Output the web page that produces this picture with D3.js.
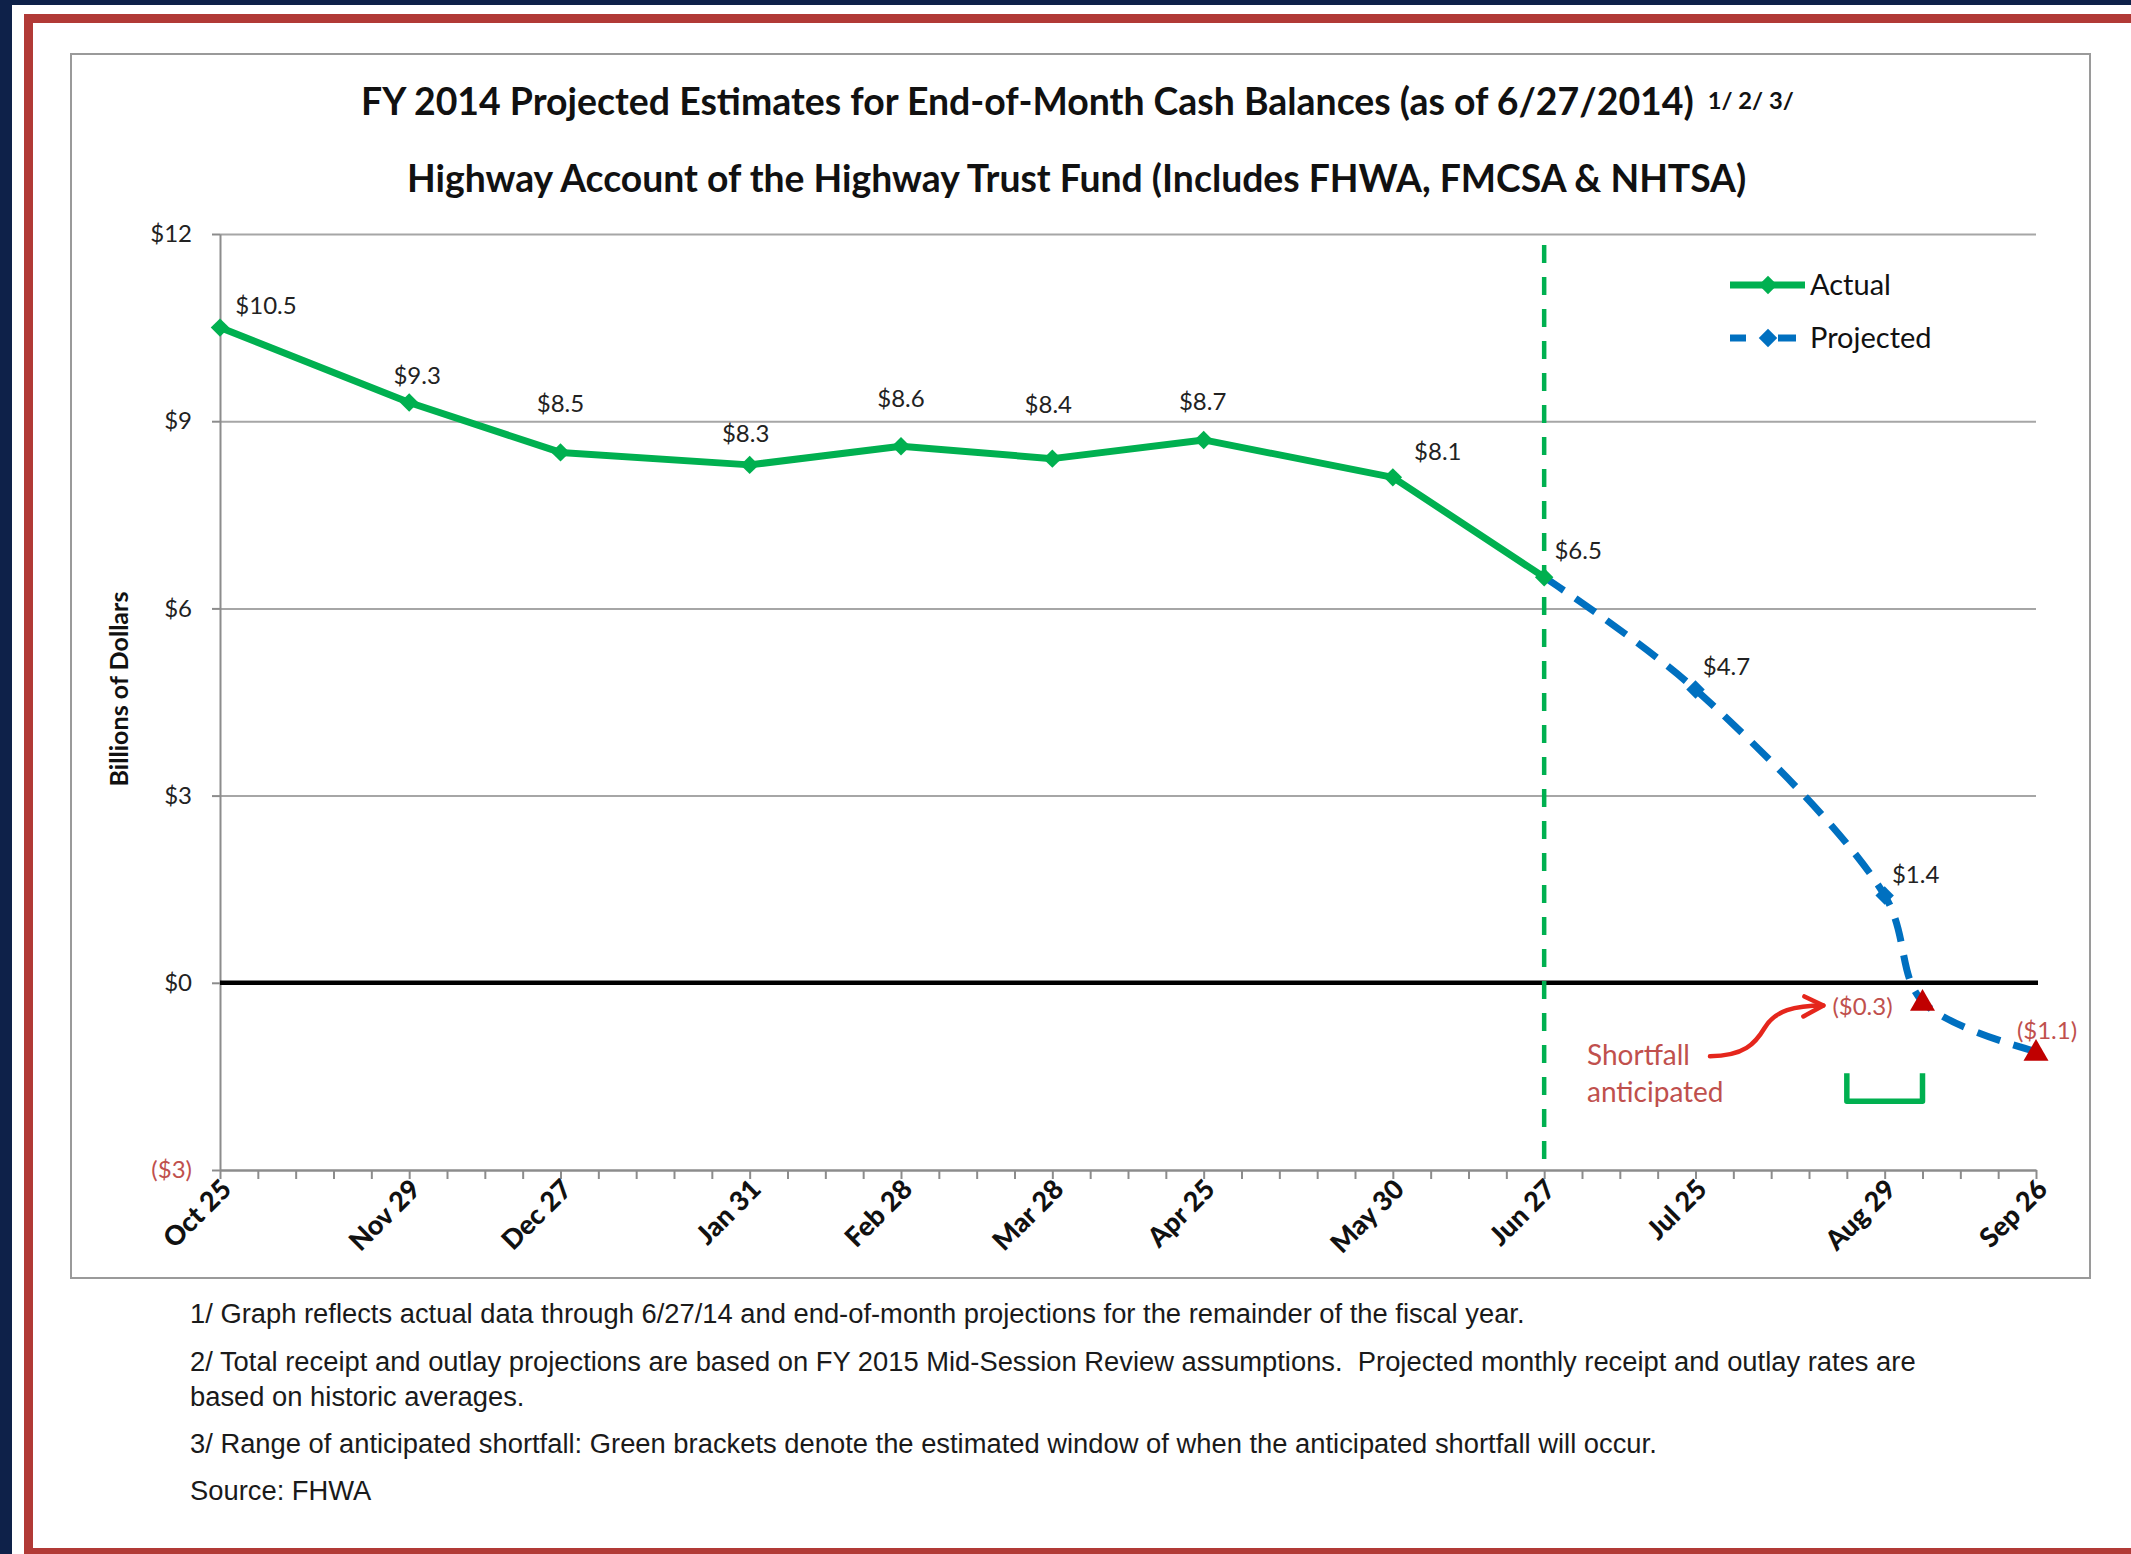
<!DOCTYPE html>
<html><head><meta charset="utf-8">
<script src="https://cdn.jsdelivr.net/npm/d3@7"></script>
<style>
html,body{margin:0;padding:0;background:#0e2149;}
svg{display:block;}
text{font-family:Lato,"Open Sans",sans-serif;}
</style></head><body>
<svg id="chart" width="2131" height="1554"></svg>
<script>
// ---------------- DATA ----------------
const actualDates  = ['2013-10-25','2013-11-29','2013-12-27','2014-01-31','2014-02-28','2014-03-28','2014-04-25','2014-05-30','2014-06-27'];
const actualValues = [10.5, 9.3, 8.5, 8.3, 8.6, 8.4, 8.7, 8.1, 6.5];
const actualLabels = ['$10.5','$9.3','$8.5','$8.3','$8.6','$8.4','$8.7','$8.1','$6.5'];

const projectedDates  = ['2014-06-27','2014-07-25','2014-08-29','2014-09-05','2014-09-26'];
const projectedValues = [6.5, 4.7, 1.4, -0.3, -1.1];
const projectedLabels = ['', '$4.7', '$1.4', '', ''];
const projectedMarker = [false, true, true, false, false];

const shortfallDates  = ['2014-09-05','2014-09-26'];
const shortfallValues = [-0.3, -1.1];
const shortfallLabels = ['($0.3)','($1.1)'];

const bracketDates  = ['2014-08-22','2014-09-05'];
const bracketValues = [-1.45, -1.9];

const cutoffDate = '2014-06-27';
const noteDate = '2014-07-04';
const noteValue = -1.32;
const noteLines = ['Shortfall','anticipated'];

const xStart = '2013-10-25', xEnd = '2014-09-26';
const xTickDates  = ['2013-10-25','2013-11-29','2013-12-27','2014-01-31','2014-02-28','2014-03-28','2014-04-25','2014-05-30','2014-06-27','2014-07-25','2014-08-29','2014-09-26'];
const xTickLabels = ['Oct 25','Nov 29','Dec 27','Jan 31','Feb 28','Mar 28','Apr 25','May 30','Jun 27','Jul 25','Aug 29','Sep 26'];
const yTickValues = [-3, 0, 3, 6, 9, 12];
const yTickLabels = ['($3)','$0','$3','$6','$9','$12'];

const title1 = 'FY 2014 Projected Estimates for End-of-Month Cash Balances (as of 6/27/2014)';
const titleNotes = '1/ 2/ 3/';
const title2 = 'Highway Account of the Highway Trust Fund (Includes FHWA, FMCSA & NHTSA)';
const yAxisTitle = 'Billions of Dollars';
const seriesNames = ['Actual','Projected'];
const footnotes = [
  '1/ Graph reflects actual data through 6/27/14 and end-of-month projections for the remainder of the fiscal year.',
  '2/ Total receipt and outlay projections are based on FY 2015 Mid-Session Review assumptions.  Projected monthly receipt and outlay rates are',
  'based on historic averages.',
  '3/ Range of anticipated shortfall: Green brackets denote the estimated window of when the anticipated shortfall will occur.',
  'Source: FHWA'
];

// ---------------- STYLE ----------------
const GREEN = '#00b050', BLUE = '#0070c0', DARKRED = '#c00000', MUTEDRED = '#c0504d', ARROWRED = '#e5261c';
const GRID = '#a6a6a6';
const parse = d3.utcParse('%Y-%m-%d');

const svg = d3.select('#chart');
const W = 2131, H = 1554;

// page frame
svg.append('rect').attr('width', W).attr('height', H).attr('fill', '#0e2149');
svg.append('rect').attr('x', 12).attr('y', 5).attr('width', W - 12).attr('height', H - 5).attr('fill', '#fff');
const RED = '#b13a36';
svg.append('rect').attr('x', 24).attr('y', 14).attr('width', W - 24).attr('height', 9).attr('fill', RED);
svg.append('rect').attr('x', 24).attr('y', 14).attr('width', 9).attr('height', H - 14).attr('fill', RED);
svg.append('rect').attr('x', 24).attr('y', 1548).attr('width', W - 24).attr('height', 6).attr('fill', RED);
// chart box
svg.append('rect').attr('x', 71).attr('y', 54).attr('width', 2019).attr('height', 1224)
  .attr('fill', '#fff').attr('stroke', '#9a9a9a').attr('stroke-width', 2);

// scales
const x = d3.scaleUtc().domain([parse(xStart), parse(xEnd)]).range([220, 2036]);
const y = d3.scaleLinear().domain([-3, 12]).range([1170, 234]);

// gridlines
const grid = svg.append('g').attr('transform', `translate(${x.range()[0]},0)`)
  .call(d3.axisLeft(y).tickValues(yTickValues.filter(v => v > 0)).tickSize(-(x.range()[1] - x.range()[0])).tickFormat(''));
grid.select('.domain').remove();
grid.selectAll('line').attr('stroke', GRID).attr('stroke-width', 2);

// y axis
const yAx = svg.append('g').attr('transform', `translate(${x.range()[0]},0)`)
  .call(d3.axisLeft(y).tickValues(yTickValues).tickSize(8).tickSizeOuter(0).tickPadding(20)
    .tickFormat((d, i) => yTickLabels[i]));
yAx.select('.domain').attr('stroke', '#8c8c8c').attr('stroke-width', 2);
yAx.selectAll('line').attr('stroke', '#8c8c8c').attr('stroke-width', 2);
yAx.selectAll('text').attr('font-family', 'Lato').attr('font-size', 24)
  .attr('fill', (d, i) => d < 0 ? MUTEDRED : '#222');

// x axis (weekly ticks)
const weekly = d3.utcFriday.range(parse(xStart), d3.utcDay.offset(parse(xEnd), 1));
const xAx = svg.append('g').attr('transform', `translate(0,${y(-3)})`)
  .call(d3.axisBottom(x).tickValues(weekly).tickSize(9).tickSizeOuter(0).tickFormat(''));
xAx.select('.domain').attr('stroke', '#8c8c8c').attr('stroke-width', 2.5);
xAx.selectAll('line').attr('stroke', '#8c8c8c').attr('stroke-width', 2);

// x labels
svg.append('g').selectAll('text').data(xTickDates).join('text')
  .attr('transform', d => `translate(${x(parse(d)) + 13},${y(-3) + 21}) rotate(-45)`)
  .attr('text-anchor', 'end').attr('font-weight', 900).attr('font-size', 27).attr('fill', '#111')
  .text((d, i) => xTickLabels[i]);

// zero line
svg.append('line').attr('x1', x.range()[0]).attr('x2', x.range()[1] + 2)
  .attr('y1', y(0)).attr('y2', y(0)).attr('stroke', '#000').attr('stroke-width', 4.5);

// cutoff dashed vertical line
svg.append('line').attr('x1', x(parse(cutoffDate))).attr('x2', x(parse(cutoffDate)))
  .attr('y1', y(12) + 11).attr('y2', y(-3)).attr('stroke', GREEN).attr('stroke-width', 4.5)
  .attr('stroke-dasharray', '18,14');

// y axis title
const yt = svg.append('text').attr('transform', `translate(128,689) rotate(-90)`)
  .attr('text-anchor', 'middle').attr('font-weight', 700).attr('font-size', 22).attr('fill', '#111')
  .text(yAxisTitle);
yt.attr('font-size', 22 * 195 / yt.node().getComputedTextLength());

// series data
const actual = actualDates.map((d, i) => ({ date: parse(d), v: actualValues[i], label: actualLabels[i] }));
const projected = projectedDates.map((d, i) => ({ date: parse(d), v: projectedValues[i], label: projectedLabels[i], m: projectedMarker[i] }));

// projected line (smoothed, dashed)
svg.append('path').datum(projected)
  .attr('d', d3.line().x(d => x(d.date)).y(d => y(d.v)).curve(d3.curveCatmullRom.alpha(0.5)))
  .attr('fill', 'none').attr('stroke', BLUE).attr('stroke-width', 7).attr('stroke-dasharray', '24,14');

// actual line
svg.append('path').datum(actual)
  .attr('d', d3.line().x(d => x(d.date)).y(d => y(d.v)))
  .attr('fill', 'none').attr('stroke', GREEN).attr('stroke-width', 7).attr('stroke-linejoin', 'round');

const diamond = d3.symbol().type(d3.symbolSquare).size(170)();
svg.append('g').selectAll('path').data(projected.filter(d => d.m)).join('path')
  .attr('d', diamond).attr('transform', d => `translate(${x(d.date)},${y(d.v)}) rotate(45)`).attr('fill', BLUE);
svg.append('g').selectAll('path').data(actual).join('path')
  .attr('d', diamond).attr('transform', d => `translate(${x(d.date)},${y(d.v)}) rotate(45)`).attr('fill', GREEN);

// data labels (offsets are placement style)
const actualOffsets = [[46,-22],[8,-27],[0,-49],[-4,-31],[0,-48],[-4,-54],[-1,-38],[45,-26],[34,-27]];
const projOffsets = [[0,0],[31,-23],[31,-21],[0,0],[0,0]];
svg.append('g').selectAll('text').data(actual).join('text')
  .attr('x', (d, i) => x(d.date) + actualOffsets[i][0]).attr('y', (d, i) => y(d.v) + actualOffsets[i][1])
  .attr('dy', '0.35em').attr('text-anchor', 'middle').attr('font-size', 24).attr('fill', '#222')
  .text(d => d.label);
svg.append('g').selectAll('text').data(projected.filter(d => d.label)).join('text')
  .attr('x', d => x(d.date) + projOffsets[projected.indexOf(d)][0]).attr('y', d => y(d.v) + projOffsets[projected.indexOf(d)][1])
  .attr('dy', '0.35em').attr('text-anchor', 'middle').attr('font-size', 24).attr('fill', '#222')
  .text(d => d.label);

// shortfall triangles + labels
const shortfall = shortfallDates.map((d, i) => ({ date: parse(d), v: shortfallValues[i], label: shortfallLabels[i] }));
svg.append('g').selectAll('path').data(shortfall).join('path')
  .attr('d', d3.symbol().type(d3.symbolTriangle).size(270)())
  .attr('transform', d => `translate(${x(d.date)},${y(d.v) + 2})`).attr('fill', DARKRED);
const sOffsets = [[-60, 5], [11, -21]];
const sLabels = svg.append('g').selectAll('text').data(shortfall).join('text')
  .attr('x', (d, i) => x(d.date) + sOffsets[i][0]).attr('y', (d, i) => y(d.v) + sOffsets[i][1])
  .attr('dy', '0.35em').attr('text-anchor', 'middle').attr('font-size', 24).attr('fill', MUTEDRED)
  .text(d => d.label);

// bracket
const bx1 = x(parse(bracketDates[0])), bx2 = x(parse(bracketDates[1]));
const by1 = y(bracketValues[0]), by2 = y(bracketValues[1]);
svg.append('path').attr('d', `M${bx1},${by1}V${by2}H${bx2}V${by1}`)
  .attr('fill', 'none').attr('stroke', GREEN).attr('stroke-width', 5.5).attr('stroke-linejoin', 'round');

// shortfall note
const noteX = x(parse(noteDate)) + 5;
const note = svg.append('text').attr('x', noteX).attr('y', y(noteValue))
  .attr('font-size', 28).attr('fill', MUTEDRED);
note.selectAll('tspan').data(noteLines).join('tspan')
  .attr('x', noteX).attr('dy', (d, i) => i ? 37 : 0).text(d => d);
const lineW = note.select('tspan').node().getComputedTextLength();
const tail = { x: noteX + lineW + 20, y: y(noteValue) - 9 };
const lb = sLabels.nodes()[0].getBBox();
const tip = { x: lb.x - 9, y: lb.y + lb.height / 2 };
const dx = tip.x - tail.x, dy = tip.y - tail.y;
svg.append('path')
  .attr('d', `M${tail.x},${tail.y} C${tail.x + 0.3 * dx},${tail.y} ${tail.x + 0.4 * dx},${tail.y + 0.25 * dy} ${tail.x + 0.48 * dx},${tail.y + 0.55 * dy} C${tail.x + 0.57 * dx},${tail.y + 0.9 * dy} ${tail.x + 0.75 * dx},${tip.y} ${tip.x},${tip.y}`)
  .attr('fill', 'none').attr('stroke', ARROWRED).attr('stroke-width', 4.5).attr('stroke-linecap', 'round');
svg.append('path')
  .attr('d', `M${tip.x - 19},${tip.y - 9} L${tip.x},${tip.y} L${tip.x - 20},${tip.y + 11}`)
  .attr('fill', 'none').attr('stroke', ARROWRED).attr('stroke-width', 4.5).attr('stroke-linecap', 'round').attr('stroke-linejoin', 'round');

// legend
const lg = svg.append('g');
const lgX = 1730, lgY = [285, 338];
lg.append('line').attr('x1', lgX).attr('x2', lgX + 75).attr('y1', lgY[0]).attr('y2', lgY[0]).attr('stroke', GREEN).attr('stroke-width', 7);
lg.append('path').attr('d', diamond).attr('transform', `translate(${lgX + 38},${lgY[0]}) rotate(45)`).attr('fill', GREEN);
lg.append('line').attr('x1', lgX).attr('x2', lgX + 16).attr('y1', lgY[1]).attr('y2', lgY[1]).attr('stroke', BLUE).attr('stroke-width', 7);
lg.append('line').attr('x1', lgX + 48).attr('x2', lgX + 66).attr('y1', lgY[1]).attr('y2', lgY[1]).attr('stroke', BLUE).attr('stroke-width', 7);
lg.append('path').attr('d', diamond).attr('transform', `translate(${lgX + 38},${lgY[1]}) rotate(45)`).attr('fill', BLUE);
lg.selectAll('text').data(seriesNames).join('text')
  .attr('x', lgX + 80).attr('y', (d, i) => lgY[i]).attr('dy', '0.35em')
  .attr('font-size', 29).attr('fill', '#111').text(d => d);

// titles
function fit(sel, width) {
  const w = sel.node().getComputedTextLength();
  sel.attr('font-size', parseFloat(sel.attr('font-size')) * width / w);
  return sel;
}
const t1 = svg.append('text').attr('x', 361).attr('y', 115).attr('font-weight', 700).attr('font-size', 34).attr('fill', '#111').text(title1);
fit(t1, 1333);
const t1end = 361 + t1.node().getComputedTextLength();
const tn = svg.append('text').attr('x', t1end + 14).attr('y', 109).attr('font-weight', 700).attr('font-size', 20).attr('fill', '#111').text(titleNotes);
fit(tn, 86);
const t2 = svg.append('text').attr('x', 407).attr('y', 192).attr('font-weight', 700).attr('font-size', 34).attr('fill', '#111').text(title2);
fit(t2, 1340);

// footnotes
const fnY = [1323, 1371, 1406, 1453, 1500];
const fn = svg.append('g').selectAll('text').data(footnotes).join('text')
  .attr('x', 190).attr('y', (d, i) => fnY[i]).attr('xml:space', 'preserve').style('white-space', 'pre')
  .style('font-family', '"Liberation Sans", Arial, sans-serif')
  .attr('font-size', 22).attr('fill', '#1a1a1a').text(d => d);
const w0 = fn.nodes()[0].getComputedTextLength();
fn.attr('font-size', 22 * 1335 / w0);
</script>
</body></html>
